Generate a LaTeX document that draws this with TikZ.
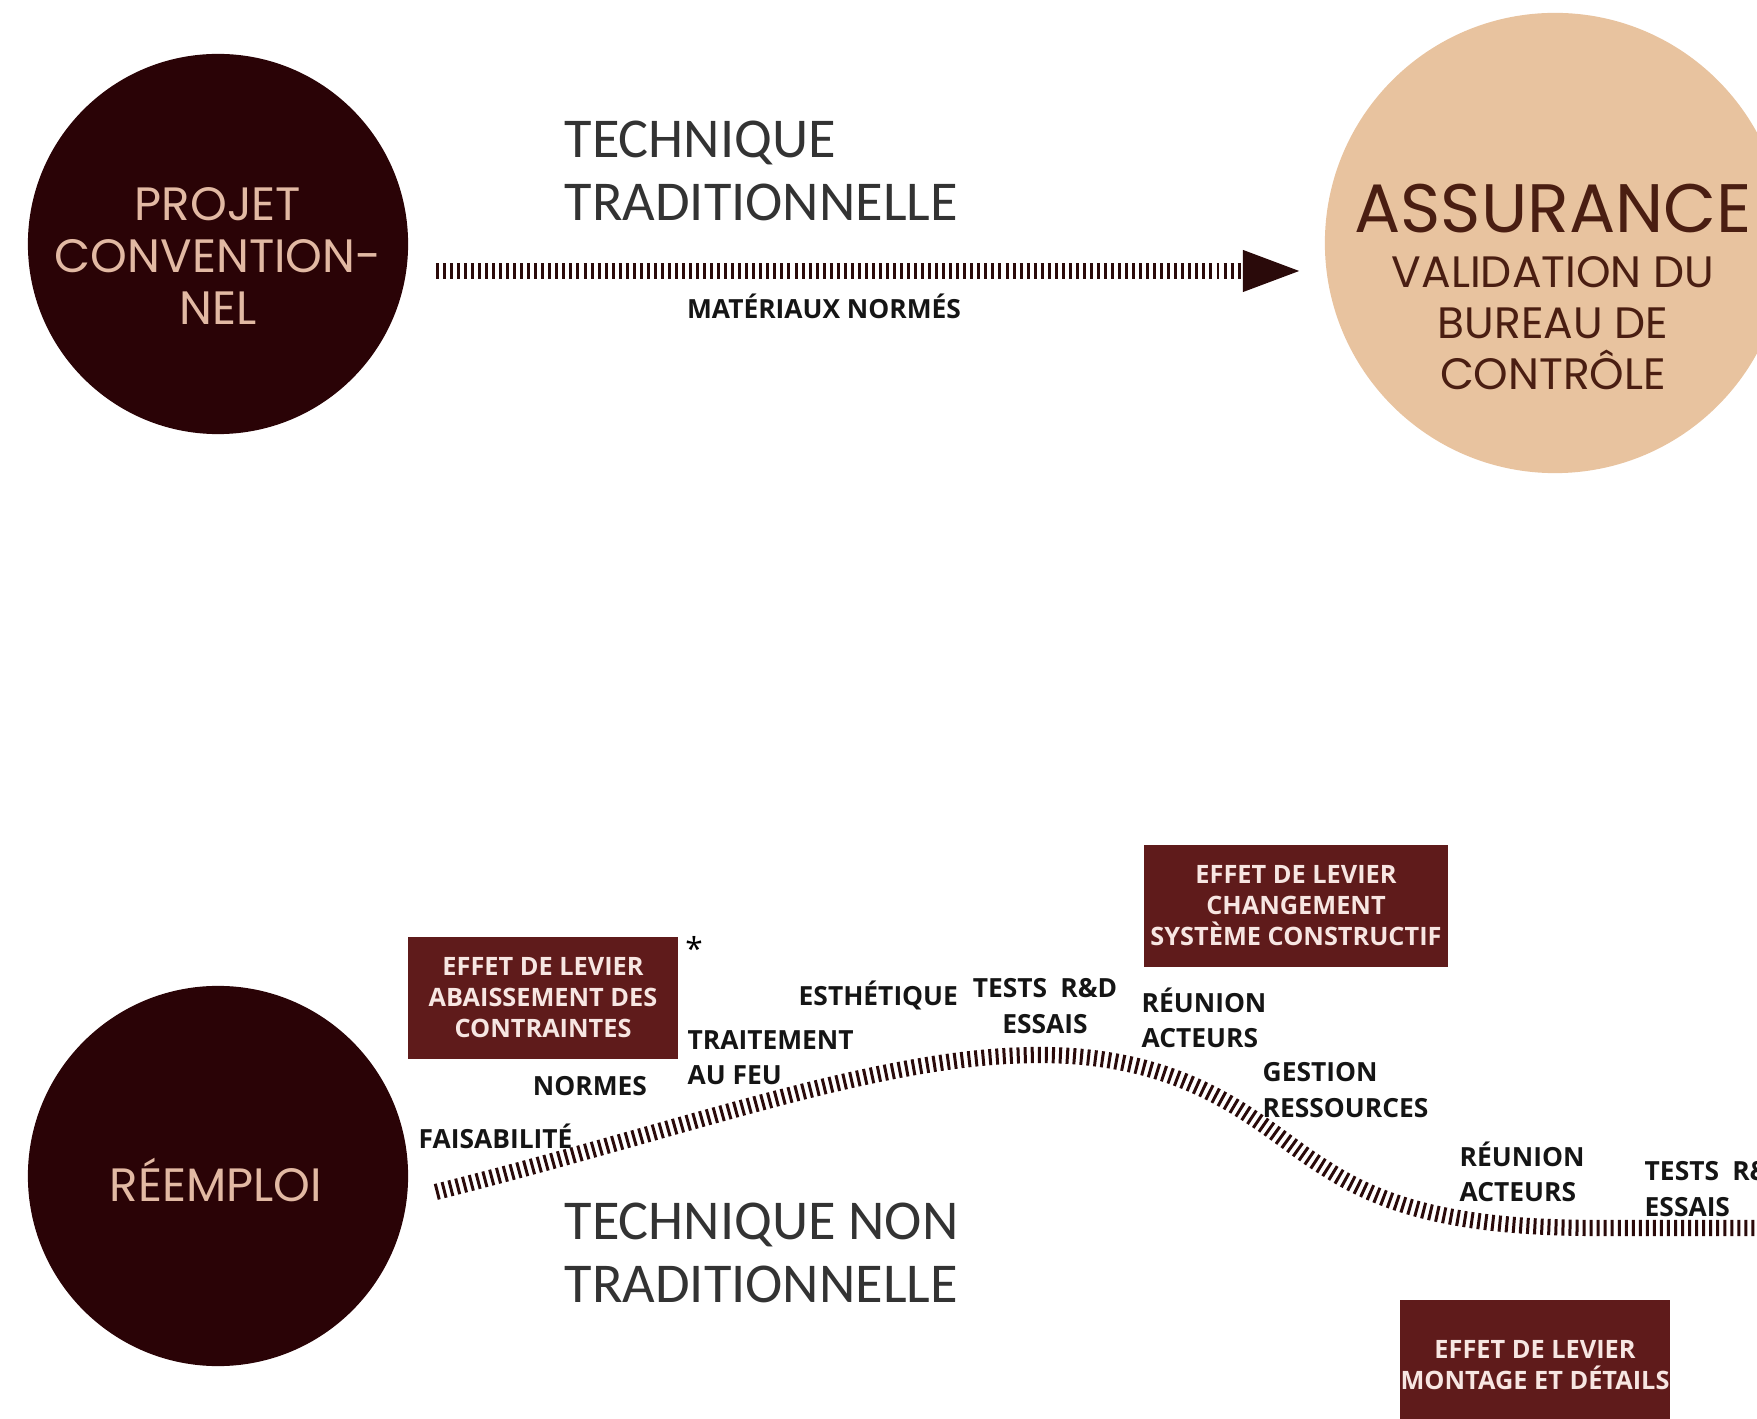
\documentclass[tikz,border=0pt]{standalone}
\usepackage{fontspec}
\setmainfont{Open Sans}
\newfontfamily\roundfont{Poppins}
\newfontfamily\lightfont{Carlito}
\usetikzlibrary{calc,arrows.meta,positioning}

\definecolor{darkplum}{HTML}{2A0306}
\definecolor{pinkbeige}{HTML}{E2B9A3}
\definecolor{sand}{HTML}{E8C39F}
\definecolor{sandtext}{HTML}{4A1E12}
\definecolor{leverred}{HTML}{5F1B1B}
\definecolor{levertext}{HTML}{F7E6E2}
\definecolor{ink}{HTML}{151515}
\definecolor{graytext}{HTML}{333333}
\definecolor{trackc}{HTML}{2A0A0A}

\begin{document}
\begin{tikzpicture}[x=0.01cm,y=-0.01cm]
		% Styles
		\tikzset{
			darkdisc/.style={circle, fill=darkplum, minimum size=3.8cm, inner sep=0},
			disctext/.style={text=pinkbeige, font=\roundfont\fontsize{13.3}{14.8}\selectfont, align=center, inner sep=0},
			sanddisc/.style={circle, fill=sand, minimum size=4.6cm, inner sep=0},
			lever/.style={fill=leverred, text=levertext, font=\bfseries\fontsize{7.2}{8.8}\selectfont, align=center, inner sep=0, minimum width=2.69cm, minimum height=1.22cm},
			tag/.style={font=\bfseries\fontsize{7.5}{10}\selectfont, text=ink, inner sep=0, align=left},
			route/.style={font=\lightfont\fontsize{16}{18}\selectfont, text=graytext, inner sep=0, align=left, anchor=west},
			track/.style={draw=trackc, line width=4.6pt, dash pattern=on 0.85pt off 1.15pt}
		}

		\useasboundingbox (0,0) rectangle (1757,1419);
		\clip (0,0) rectangle (1757,1419);

		% Circles
		\node[darkdisc] (projet) at (218,244) {};
		\node[disctext] (projtxt) at ($(projet)+(0,12)$) {PROJET\\CONVENTION-\\NEL};
		\node[darkdisc] (reemploi) at (218,1176) {};
		\node[disctext] (reemtxt) at ($(reemploi)+(-2,4)$) {RÉEMPLOI};
		\node[sanddisc] (assur) at (1555,243) {};
		\node[text=sandtext, align=center, inner sep=0, font=\roundfont\fontsize{12.5}{14.5}\selectfont] (assurtxt) at ($(assur)+(-2,44)$)
			{{\fontsize{19.5}{21}\selectfont ASSURANCE}\\[1pt] VALIDATION DU\\ BUREAU DE\\ CONTRÔLE};

		% Traditional route
		\draw[track, -{Triangle[length=16pt, width=12pt, line width=0pt]}] ($(projet.east)+(27,27)$) -- ($(assur.west)+(-25,28)$);
		\node[route] (techtrad) at (564,171) {TECHNIQUE\\TRADITIONNELLE};
		\node[tag] (matnorm) at (824,306) {MATÉRIAUX NORMÉS};

		% Re-use route (leaves the frame on the right)
		\coordinate (exit) at (1770,1228);
		\draw[track] ($(reemploi.east)+(27,16)$) .. controls (700,1125) and (880,1055) .. (1040,1055)
			.. controls (1200,1055) and (1265,1132) .. (1325,1168)
			.. controls (1395,1214) and (1480,1228) .. (1600,1228) -- (exit);
		\node[route] (technon) at (564,1253) {TECHNIQUE NON\\TRADITIONNELLE};

		% Lever boxes
		\node[lever] (lev1) at (543,998) {EFFET DE LEVIER\\ABAISSEMENT DES\\CONTRAINTES};
		\node[lever, minimum width=3.03cm, minimum height=1.21cm] (lev2) at (1296,906) {EFFET DE LEVIER\\CHANGEMENT\\SYSTÈME CONSTRUCTIF};
		\node[lever, minimum height=1.3cm] (lev3) at (1535,1365) {EFFET DE LEVIER\\MONTAGE ET DÉTAILS};
		\node[inner sep=0, font=\fontsize{9}{9}\selectfont] (star) at (694,948) {*};

		% Steps along the route
		\node[tag, anchor=west] (faisa) at (418,1136) {FAISABILITÉ};
		\node[tag] (normes) at (590,1086) {NORMES};
		\node[tag, anchor=west] (feu) at (687,1058) {TRAITEMENT\\AU FEU};
		\node[tag, anchor=west] (esth) at (798,995) {ESTHÉTIQUE};
		\node[tag, align=center] (tests1) at (1045,1006) {TESTS\enspace R\&D\\ESSAIS};
		\node[tag, anchor=west] (reun1) at (1141,1018) {RÉUNION\\ACTEURS};
		\node[tag, anchor=west] (gestion) at (1262,1090) {GESTION\\RESSOURCES};
		\node[tag, anchor=west] (reun2) at (1459,1172) {RÉUNION\\ACTEURS};
		\node[tag, anchor=west] (tests2) at (1644,1189) {TESTS\enspace R\&D\\ESSAIS};

	\end{tikzpicture}
\end{document}
